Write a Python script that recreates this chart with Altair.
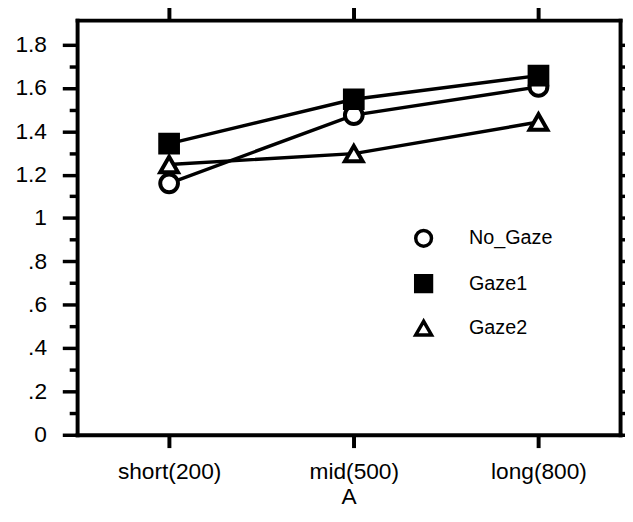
import altair as alt
import pandas as pd

categories = ["short(200)", "mid(500)", "long(800)"]
series_names = ["No_Gaze", "Gaze1", "Gaze2"]
no_gaze = [1.16, 1.475, 1.605]
gaze1 = [1.343, 1.548, 1.657]
gaze2 = [1.247, 1.297, 1.443]
y_tick_values = [0, 0.1, 0.2, 0.3, 0.4, 0.5, 0.6, 0.7, 0.8, 0.9,
                 1.0, 1.1, 1.2, 1.3, 1.4, 1.5, 1.6, 1.7, 1.8]
y_max = 1.913

rows = []
for name, vals in zip(series_names, [no_gaze, gaze1, gaze2]):
    for c, v in zip(categories, vals):
        rows.append({"A": c, "value": v, "series": name})
df = pd.DataFrame(rows)

FONT = "Liberation Sans"
label_expr = ("round(datum.value*10) % 2 == 1 ? '' : "
              "(datum.value == 0 ? '0' : (datum.value < 1 ? replace(format(datum.value, '.1f'), '0.', '.') : "
              "(round(datum.value*10) % 10 == 0 ? format(datum.value, '.0f') : format(datum.value, '.1f'))))")
major_test = "round(datum.value*10) % 2 == 0"

xscale = alt.Scale(type="point", domain=categories, padding=0.47, align=0.53)
yscale = alt.Scale(domain=[0, y_max], nice=False, zero=True)

common_axis = dict(domainColor="black", domainWidth=4, domainCap="square",
                   tickColor="black", grid=False,
                   labelFont=FONT, labelColor="black")

x_bottom = alt.Axis(orient="bottom", title="A", titleFont=FONT, titleFontSize=23,
                    titleFontWeight="normal", titleColor="black", titlePadding=3,
                    labelAngle=0, labelFontSize=23, tickSize=13, tickWidth=4,
                    labelPadding=13, **common_axis)
x_top = alt.Axis(orient="top", title=None, labels=False, tickSize=13, tickWidth=4, **common_axis)

tick_size_cond = {"condition": {"test": major_test, "value": 15}, "value": 8}
y_left = alt.Axis(orient="left", title=None, values=y_tick_values, labelExpr=label_expr,
                  labelOverlap=False, tickSize=tick_size_cond, tickWidth=3.5,
                  labelPadding=16, labelFontSize=23, **common_axis)
y_right = alt.Axis(orient="right", title=None, values=y_tick_values, labels=False,
                   tickSize=tick_size_cond, tickWidth=3.5, **common_axis)

lines = alt.Chart(df).mark_line(color="black", strokeWidth=3.5).encode(
    x=alt.X("A:N", scale=xscale, sort=categories, axis=x_bottom),
    y=alt.Y("value:Q", scale=yscale, axis=y_left),
    detail="series:N",
)

legend_kw = dict(title=None)

points = alt.Chart(df).mark_point(strokeWidth=4, opacity=1, size=324, filled=False).encode(
    x=alt.X("A:N", scale=xscale, sort=categories, axis=x_top),
    y=alt.Y("value:Q", scale=yscale, axis=y_right),
    shape=alt.Shape("series:N", scale=alt.Scale(domain=series_names, range=["circle", "square", "triangle-up"]),
                    legend=alt.Legend(**legend_kw)),
    fill=alt.Fill("series:N", scale=alt.Scale(domain=series_names, range=["white", "black", "white"]),
                  legend=alt.Legend(**legend_kw)),
    stroke=alt.Stroke("series:N", scale=alt.Scale(domain=series_names, range=["black", "black", "black"]),
                      legend=alt.Legend(**legend_kw)),
)

chart = alt.layer(lines, points).resolve_axis(x="independent", y="independent").properties(
    width=550, height=420,
    autosize=alt.AutoSizeParams(type="none"),
    padding={"left": 70, "top": 9, "right": 5, "bottom": 80},
).configure_view(stroke=None).configure_legend(
    orient="none", legendX=341, legendY=211, padding=0,
    labelFont=FONT, labelFontSize=20, labelColor="black", labelOffset=36,
    symbolSize=256, symbolStrokeWidth=3.5, rowPadding=16,
)

chart.save("out.html", embed_options={"renderer": "svg", "actions": False})
